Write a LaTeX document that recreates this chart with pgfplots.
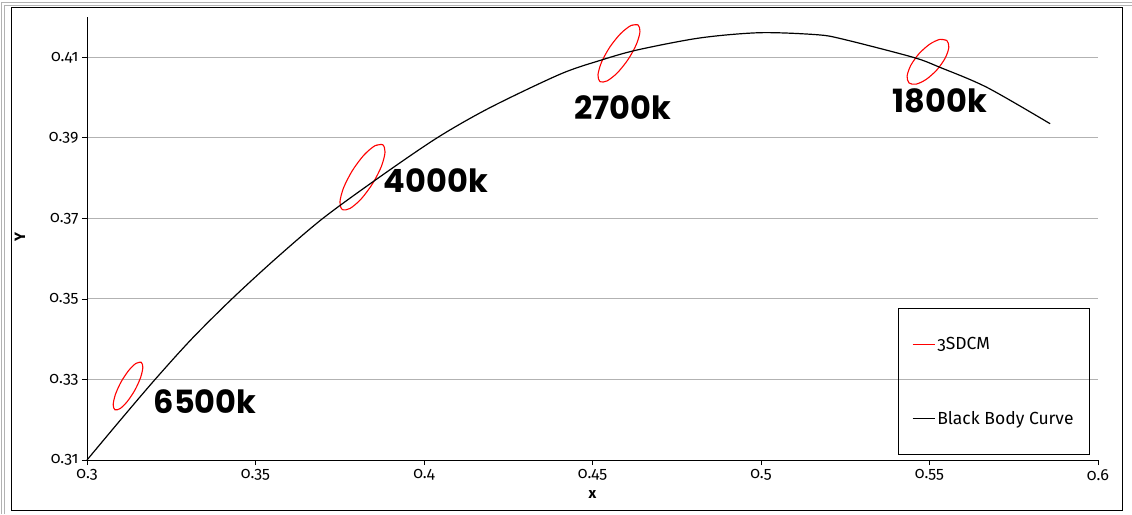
\documentclass[border=0pt]{standalone}
\usepackage{fontspec}
\setmainfont{Fira Sans}[Numbers=OldStyle]
\newfontfamily\annfont{Poppins}
\usepackage{pgfplots}
\pgfplotsset{compat=1.18}
\begin{document}
\begin{tikzpicture}
\useasboundingbox (-87pt,-54pt) rectangle (1045pt,460pt);
% outer frame
\draw[gray!60, line width=1pt] (-85pt,-54pt) -- (-85pt,457pt) -- (1045pt,457pt);
\draw[gray!60, line width=1pt] (-82pt,-54pt) -- (-82pt,454pt) -- (1045pt,454pt);
\draw[black, line width=0.9pt] (-76pt,-50pt) rectangle (1035pt,453pt);
\begin{axis}[
  at={(0pt,0pt)}, anchor=south west,
  scale only axis, width=1011pt, height=443pt,
  xmin=0.3, xmax=0.6, ymin=0.31, ymax=0.42,
  axis x line*=bottom, axis y line*=left,
  axis line style={black, line width=0.7pt},
  xtick={0.3,0.35,0.4,0.45,0.5,0.55,0.6},
  xticklabels={0.3,0.35,0.4,0.45,0.5,0.55,0.6},
  ytick={0.31,0.33,0.35,0.37,0.39,0.41},
  yticklabels={0.31,0.33,0.35,0.37,0.39,0.41},
  tick align=outside, major tick length=5pt,
  tick style={black, line width=0.7pt},
  ymajorgrids, grid style={gray!60, line width=0.9pt},
  tick label style={font=\fontsize{16}{18}\selectfont},
  xticklabel style={yshift=-1pt},
  xlabel={x}, ylabel={Y},
  every axis x label/.append style={at={(axis description cs:0.5,-0.079)}, anchor=center, font=\fontsize{15}{17}\selectfont\bfseries},
  every axis y label/.append style={at={(axis description cs:-0.0663,0.503)}, anchor=center, font=\fontsize{15}{17}\selectfont\bfseries},
  legend style={at={(0.992,0.0113)}, anchor=south east, draw=black, line width=0.7pt, fill=none,
    inner xsep=14pt, inner ysep=27pt, row sep=56pt,
    font=\fontsize{17.5}{19}\selectfont, cells={anchor=west}},
  legend image code/.code={\draw[#1, line width=1.2pt] (0pt,0pt) -- (22pt,0pt);},
  clip=false,
]
% 6500k ellipse (carries the 3SDCM legend entry)
\addplot[red, line width=1.1pt, smooth] coordinates {
(0.31606,0.33428)(0.31450,0.33398)(0.31232,0.33217)(0.31009,0.32935)(0.30843,0.32627)(0.30777,0.32375)(0.30828,0.32248)(0.30984,0.32278)(0.31202,0.32459)(0.31425,0.32741)(0.31591,0.33049)(0.31657,0.33301)(0.31606,0.33428)(0.31450,0.33398)
};
\addlegendentry{3SDCM}
% 4000k ellipse
\addplot[red, line width=1.1pt, smooth, forget plot] coordinates {
(0.38773,0.38831)(0.38541,0.38802)(0.38212,0.38566)(0.37873,0.38184)(0.37614,0.37760)(0.37506,0.37407)(0.37577,0.37219)(0.37809,0.37248)(0.38138,0.37484)(0.38477,0.37866)(0.38736,0.38290)(0.38844,0.38643)(0.38773,0.38831)(0.38541,0.38802)
};
% 2700k ellipse
\addplot[red, line width=1.1pt, smooth, forget plot] coordinates {
(0.46350,0.41805)(0.46139,0.41787)(0.45833,0.41586)(0.45515,0.41254)(0.45270,0.40881)(0.45163,0.40567)(0.45222,0.40395)(0.45433,0.40413)(0.45739,0.40614)(0.46057,0.40946)(0.46302,0.41319)(0.46409,0.41633)(0.46350,0.41805)(0.46139,0.41787)
};
% 1800k ellipse
\addplot[red, line width=1.1pt, smooth, forget plot] coordinates {
(0.55517,0.41414)(0.55309,0.41444)(0.55007,0.41325)(0.54690,0.41089)(0.54445,0.40799)(0.54336,0.40533)(0.54393,0.40362)(0.54601,0.40332)(0.54903,0.40451)(0.55220,0.40687)(0.55465,0.40977)(0.55574,0.41243)(0.55517,0.41414)(0.55309,0.41444)
};
\addplot[black, line width=1.2pt, smooth] coordinates {
(0.300,0.310)(0.310,0.3200)(0.3202,0.330)(0.3310,0.340)(0.3430,0.350)(0.3560,0.360)(0.3700,0.370)(0.3864,0.380)(0.4039,0.390)(0.4196,0.3975)(0.4404,0.4058)(0.4522,0.4092)(0.4632,0.4118)(0.4819,0.4148)(0.4997,0.4161)(0.5166,0.4156)(0.5243,0.4145)(0.5451,0.4100)(0.5531,0.4075)(0.5671,0.4025)(0.5858,0.3935)
};
\addlegendentry{Black Body Curve}
\node[font=\annfont\fontsize{32}{34}\selectfont\bfseries] at (axis cs:0.33501,0.3245) {6500k};
\node[font=\annfont\fontsize{32}{34}\selectfont\bfseries] at (axis cs:0.40356,0.3795) {4000k};
\node[font=\annfont\fontsize{32}{34}\selectfont\bfseries] at (axis cs:0.45905,0.3975) {2700k};
\node[font=\annfont\fontsize{32}{34}\selectfont\bfseries] at (axis cs:0.55312,0.39925) {1800k};
\end{axis}
\end{tikzpicture}
\end{document}
